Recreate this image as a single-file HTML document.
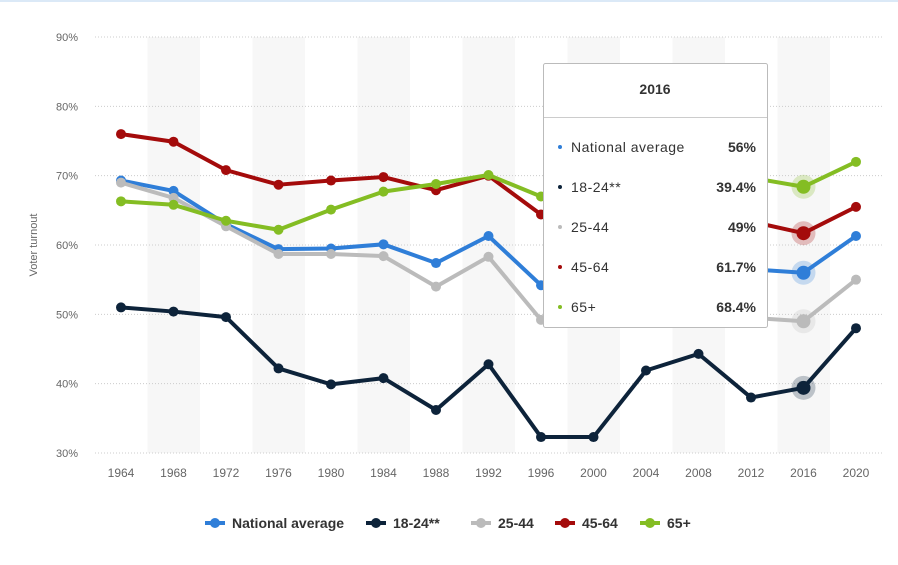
<!DOCTYPE html>
<html><head><meta charset="utf-8"><style>
body{margin:0;background:#fff;font-family:"Liberation Sans",sans-serif;}
svg{display:block}
</style></head><body>
<svg id="c" width="898" height="565"></svg>
<script>
const years=[1964,1968,1972,1976,1980,1984,1988,1992,1996,2000,2004,2008,2012,2016,2020];
const national=[69.3,67.8,63,59.4,59.5,60.1,57.4,61.3,54.2,54.7,58.3,58.2,56.5,56,61.3];
const age1824=[51,50.4,49.6,42.2,39.9,40.8,36.2,42.8,32.3,32.3,41.9,44.3,38,39.4,48];
const age2544=[69,66.8,62.7,58.7,58.7,58.4,54,58.3,49.2,50.5,52.2,51.9,49.5,49,55];
const age4564=[76,74.9,70.8,68.7,69.3,69.8,67.9,70,64.4,64.1,66.6,65,63.4,61.7,65.5];
const age65=[66.3,65.8,63.5,62.2,65.1,67.7,68.8,70.1,67,67.6,68.9,68.1,69.7,68.4,72];
const yTicks=[30,40,50,60,70,80,90];
const seriesNames=["National average","18-24**","25-44","45-64","65+"];
const seriesColors=["#2f7ed8","#0d233a","#bbbbbb","#a40b0b","#84bd23"];
const tipValues=["56%","39.4%","49%","61.7%","68.4%"];
const series=[national,age1824,age2544,age4564,age65];
const NS="http://www.w3.org/2000/svg";
const svg=document.getElementById('c');
const x=i=>121+i*52.5;
const y=v=>453-(v-30)*6.933;
function mk(t,a,p){const e=document.createElementNS(NS,t);for(const k in a)e.setAttribute(k,a[k]);(p||svg).appendChild(e);return e;}
const topBorder=mk('rect',{x:0,y:0,width:898,height:2,fill:'#dbe9f7'});


years.forEach((yr,i)=>{if(i%2===1){const b=mk('rect',{x:x(i)-26,y:37,width:52.5,height:416,fill:'#f7f7f7'});

}});
yTicks.forEach(t=>{const l=mk('line',{x1:95,x2:884,y1:y(t),y2:y(t),stroke:'#cccccc','stroke-dasharray':'1,2'});


const tx=mk('text',{x:78,y:y(t)+4,'text-anchor':'end','font-size':11,fill:'#666'});tx.textContent=t+'%';

});
years.forEach((yr,i)=>{const tx=mk('text',{x:x(i),y:477,'text-anchor':'middle','font-size':12,fill:'#666'});tx.textContent=yr;

});
const yt=mk('text',{x:37,y:245,'text-anchor':'middle','font-size':11,fill:'#666',transform:'rotate(-90 37 245)'});yt.textContent='Voter turnout';


const hi=13;
series.forEach((s,k)=>{const g=mk('g',{});


mk('polyline',{points:s.map((v,i)=>x(i)+','+y(v)).join(' '),fill:'none',stroke:seriesColors[k],'stroke-width':4,'stroke-linejoin':'round'},g);
s.forEach((v,i)=>{if(i===hi){mk('circle',{cx:x(i),cy:y(v),r:12,fill:seriesColors[k],'fill-opacity':0.25},g);
const c=mk('circle',{cx:x(i),cy:y(v),r:7,fill:seriesColors[k]},g);

}
else{const c=mk('circle',{cx:x(i),cy:y(v),r:5,fill:seriesColors[k]},g);

}});});
const tg=mk('g',{});


mk('rect',{x:543.5,y:63.5,width:224,height:264,fill:'#fff',stroke:'#bbb',rx:2},tg);
const th=mk('text',{x:655,y:94,'text-anchor':'middle','font-size':14,'font-weight':'bold',fill:'#333'},tg);th.textContent=years[hi];
mk('line',{x1:544,x2:767,y1:117.5,y2:117.5,stroke:'#ccc'},tg);
seriesNames.forEach((n,k)=>{const yy=152+k*40;
mk('circle',{cx:560,cy:yy-5,r:2,fill:seriesColors[k]},tg);
const a=mk('text',{x:571,y:yy,'font-size':14,fill:'#333','letter-spacing':'0.5'},tg);a.textContent=n;
const b=mk('text',{x:756,y:yy,'text-anchor':'end','font-size':14,'font-weight':'bold',fill:'#333'},tg);b.textContent=tipValues[k];});
const lx=[205,366,471,555,640];
seriesNames.forEach((n,k)=>{const g=mk('g',{});


mk('line',{x1:lx[k],x2:lx[k]+20,y1:523,y2:523,stroke:seriesColors[k],'stroke-width':4},g);
mk('circle',{cx:lx[k]+10,cy:523,r:5,fill:seriesColors[k]},g);
const t=mk('text',{x:lx[k]+27,y:528,'font-size':14,'font-weight':'bold',fill:'#333'},g);t.textContent=n;});
</script>
</body></html>
